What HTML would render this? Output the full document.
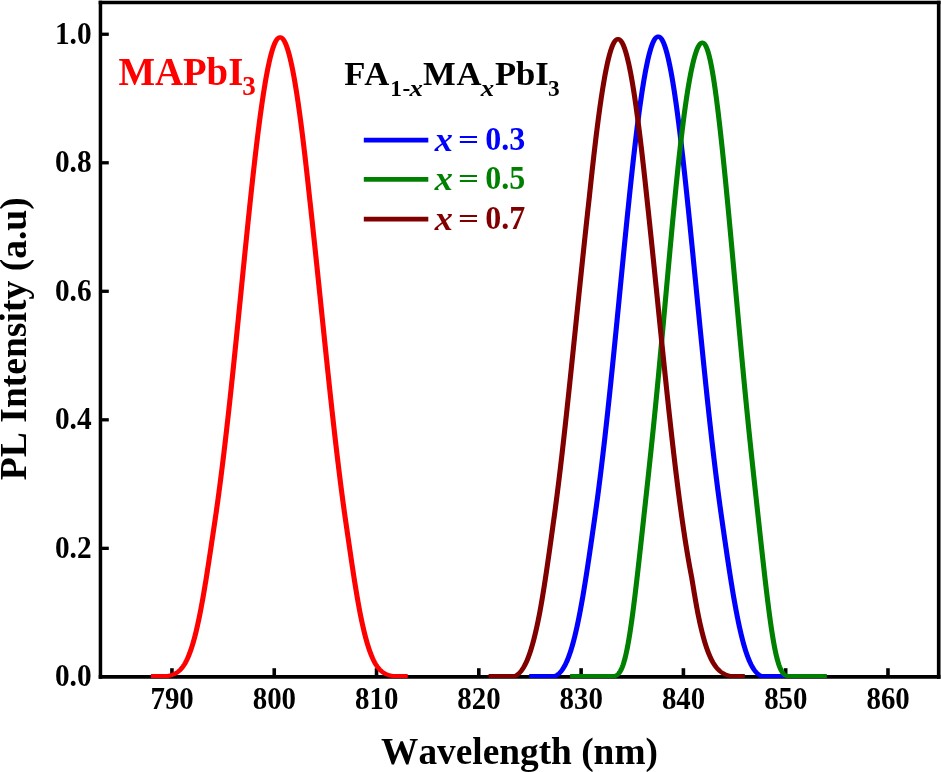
<!DOCTYPE html>
<html lang="en">
<head>
<meta charset="utf-8">
<title>PL Intensity vs Wavelength</title>
<style>
html,body{margin:0;padding:0;background:#fff;}
body{width:941px;height:772px;overflow:hidden;}
svg{display:block;}
text{font-family:'Liberation Serif', serif;font-weight:bold;font-kerning:none;}
.tick{font-size:29.33px;fill:#000;}
.title{font-size:37.33px;fill:#000;}
.leg{font-size:32px;}
i,.it{font-style:italic;}
</style>
</head>
<body>
<svg width="941" height="772" viewBox="0 0 941 772">
<rect x="0" y="0" width="941" height="772" fill="#ffffff"/>

<g stroke="#000" fill="none">
<line x1="171.95" y1="677" x2="171.95" y2="668.2" stroke-width="3.6"/>
<line x1="274.24" y1="677" x2="274.24" y2="668.2" stroke-width="3.6"/>
<line x1="376.53" y1="677" x2="376.53" y2="668.2" stroke-width="3.6"/>
<line x1="478.82" y1="677" x2="478.82" y2="668.2" stroke-width="3.6"/>
<line x1="581.11" y1="677" x2="581.11" y2="668.2" stroke-width="3.6"/>
<line x1="683.40" y1="677" x2="683.40" y2="668.2" stroke-width="3.6"/>
<line x1="785.69" y1="677" x2="785.69" y2="668.2" stroke-width="3.6"/>
<line x1="887.98" y1="677" x2="887.98" y2="668.2" stroke-width="3.6"/>
<line x1="100.5" y1="548.33" x2="108.8" y2="548.33" stroke-width="3.3"/>
<line x1="100.5" y1="419.81" x2="108.8" y2="419.81" stroke-width="3.3"/>
<line x1="100.5" y1="291.29" x2="108.8" y2="291.29" stroke-width="3.3"/>
<line x1="100.5" y1="162.77" x2="108.8" y2="162.77" stroke-width="3.3"/>
<line x1="100.5" y1="34.25" x2="108.8" y2="34.25" stroke-width="3.3"/>
<line x1="100.45" y1="0.78" x2="100.45" y2="678.67" stroke-width="3.5"/>
<line x1="98.7" y1="676.85" x2="940.5" y2="676.85" stroke-width="3.65"/>
<line x1="98.7" y1="2.45" x2="940.5" y2="2.45" stroke-width="3.35"/>
<line x1="938.7" y1="0.78" x2="938.7" y2="678.67" stroke-width="3.65"/>
</g>
<g fill="none" stroke-width="4.1" stroke-linejoin="round" stroke-linecap="butt" transform="scale(1.25,1)">
<path stroke="#ff0000" d="M120.80,675.96 L133.85,675.96 L134.08,675.95 L134.30,675.91 L134.52,675.87 L134.75,675.82 L134.97,675.77 L135.20,675.72 L135.42,675.66 L135.65,675.60 L135.87,675.54 L136.10,675.47 L136.32,675.41 L136.54,675.34 L136.77,675.26 L136.99,675.18 L137.22,675.10 L137.44,675.01 L137.67,674.92 L137.89,674.83 L138.12,674.73 L138.34,674.63 L138.56,674.52 L138.79,674.41 L139.01,674.29 L139.24,674.17 L139.46,674.04 L139.69,673.91 L139.91,673.77 L140.14,673.62 L140.36,673.47 L140.59,673.32 L140.81,673.15 L141.03,672.98 L141.26,672.81 L141.48,672.62 L141.71,672.43 L141.93,672.23 L142.16,672.03 L142.38,671.82 L142.61,671.59 L142.83,671.36 L143.05,671.13 L143.28,670.88 L143.50,670.63 L143.73,670.36 L143.95,670.09 L144.18,669.81 L144.40,669.51 L144.63,669.21 L144.85,668.90 L145.07,668.58 L145.30,668.24 L145.52,667.90 L145.75,667.54 L145.97,667.18 L146.20,666.80 L146.42,666.41 L146.65,666.01 L146.87,665.60 L147.09,665.17 L147.32,664.73 L147.54,664.28 L147.77,663.82 L147.99,663.34 L148.22,662.85 L148.44,662.34 L148.67,661.82 L148.89,661.29 L149.11,660.74 L149.34,660.18 L149.56,659.60 L149.79,659.01 L150.01,658.40 L150.24,657.78 L150.46,657.14 L150.69,656.48 L150.91,655.81 L151.13,655.13 L151.36,654.42 L151.58,653.70 L151.81,652.97 L152.03,652.21 L152.26,651.44 L152.48,650.65 L152.71,649.85 L152.93,649.02 L153.15,648.18 L153.38,647.32 L153.60,646.45 L153.83,645.55 L154.05,644.64 L154.28,643.71 L154.50,642.76 L154.73,641.79 L154.95,640.80 L155.17,639.79 L155.40,638.77 L155.62,637.72 L155.85,636.66 L156.07,635.58 L156.30,634.48 L156.52,633.36 L156.75,632.22 L156.97,631.07 L157.19,629.89 L157.42,628.69 L157.64,627.48 L157.87,626.25 L158.09,624.99 L158.32,623.72 L158.54,622.43 L158.77,621.13 L158.99,619.80 L159.21,618.46 L159.44,617.09 L159.66,615.71 L159.89,614.31 L160.11,612.90 L160.34,611.46 L160.56,610.01 L160.79,608.54 L161.01,607.05 L161.23,605.55 L161.46,604.03 L161.68,602.49 L161.91,600.94 L162.13,599.37 L162.36,597.79 L162.58,596.19 L162.81,594.58 L163.03,592.95 L163.25,591.30 L163.48,589.65 L163.70,587.98 L163.93,586.29 L164.15,584.59 L164.38,582.89 L164.60,581.16 L164.83,579.43 L165.05,577.68 L165.27,575.93 L165.50,574.16 L165.72,572.39 L165.95,570.60 L166.17,568.80 L166.40,567.00 L166.62,565.19 L166.85,563.37 L167.07,561.54 L167.29,559.70 L167.52,557.86 L167.74,556.02 L167.97,554.16 L168.19,552.31 L168.42,550.44 L168.64,548.58 L168.87,546.71 L169.09,544.84 L169.31,542.96 L169.54,541.08 L169.76,539.20 L169.99,537.32 L170.21,535.44 L170.44,533.56 L170.66,531.68 L170.89,529.80 L171.11,527.91 L171.33,526.03 L171.56,524.15 L171.78,522.27 L172.01,520.38 L172.23,518.47 L172.46,516.55 L172.68,514.62 L172.91,512.67 L173.13,510.70 L173.35,508.72 L173.58,506.73 L173.80,504.72 L174.03,502.70 L174.25,500.66 L174.48,498.61 L174.70,496.54 L174.93,494.46 L175.15,492.36 L175.37,490.25 L175.60,488.13 L175.82,485.99 L176.05,483.84 L176.27,481.67 L176.50,479.49 L176.72,477.29 L176.95,475.09 L177.17,472.86 L177.39,470.63 L177.62,468.38 L177.84,466.11 L178.07,463.84 L178.29,461.55 L178.52,459.24 L178.74,456.92 L178.97,454.60 L179.19,452.25 L179.41,449.90 L179.64,447.53 L179.86,445.15 L180.09,442.75 L180.31,440.35 L180.54,437.93 L180.76,435.50 L180.99,433.06 L181.21,430.60 L181.43,428.14 L181.66,425.66 L181.88,423.17 L182.11,420.67 L182.33,418.16 L182.56,415.64 L182.78,413.10 L183.01,410.56 L183.23,408.00 L183.45,405.44 L183.68,402.86 L183.90,400.28 L184.13,397.68 L184.35,395.08 L184.58,392.47 L184.80,389.84 L185.03,387.21 L185.25,384.57 L185.47,381.92 L185.70,379.26 L185.92,376.60 L186.15,373.92 L186.37,371.24 L186.60,368.55 L186.82,365.85 L187.05,363.15 L187.27,360.44 L187.49,357.72 L187.72,354.99 L187.94,352.26 L188.17,349.53 L188.39,346.78 L188.62,344.03 L188.84,341.28 L189.07,338.52 L189.29,335.76 L189.51,332.99 L189.74,330.22 L189.96,327.44 L190.19,324.66 L190.41,321.87 L190.64,319.09 L190.86,316.30 L191.09,313.50 L191.31,310.71 L191.53,307.91 L191.76,305.11 L191.98,302.31 L192.21,299.50 L192.43,296.70 L192.66,293.89 L192.88,291.09 L193.11,288.28 L193.33,285.48 L193.55,282.67 L193.78,279.87 L194.00,277.06 L194.23,274.26 L194.45,271.46 L194.68,268.66 L194.90,265.86 L195.13,263.07 L195.35,260.28 L195.57,257.49 L195.80,254.70 L196.02,251.92 L196.25,249.14 L196.47,246.37 L196.70,243.60 L196.92,240.84 L197.15,238.08 L197.37,235.33 L197.60,232.58 L197.82,229.84 L198.04,227.11 L198.27,224.38 L198.49,221.66 L198.72,218.95 L198.94,216.25 L199.17,213.55 L199.39,210.87 L199.62,208.19 L199.84,205.52 L200.06,202.86 L200.29,200.21 L200.51,197.57 L200.74,194.94 L200.96,192.33 L201.19,189.72 L201.41,187.13 L201.64,184.54 L201.86,181.97 L202.08,179.42 L202.31,176.87 L202.53,174.34 L202.76,171.82 L202.98,169.32 L203.21,166.83 L203.43,164.35 L203.66,161.89 L203.88,159.45 L204.10,157.02 L204.33,154.61 L204.55,152.21 L204.78,149.83 L205.00,147.47 L205.23,145.12 L205.45,142.79 L205.68,140.48 L205.90,138.19 L206.12,135.91 L206.35,133.66 L206.57,131.42 L206.80,129.21 L207.02,127.01 L207.25,124.83 L207.47,122.68 L207.70,120.54 L207.92,118.42 L208.14,116.33 L208.37,114.26 L208.59,112.21 L208.82,110.18 L209.04,108.18 L209.27,106.19 L209.49,104.23 L209.72,102.30 L209.94,100.38 L210.16,98.50 L210.39,96.63 L210.61,94.79 L210.84,92.98 L211.06,91.19 L211.29,89.42 L211.51,87.68 L211.74,85.97 L211.96,84.28 L212.18,82.62 L212.41,80.98 L212.63,79.37 L212.86,77.79 L213.08,76.24 L213.31,74.71 L213.53,73.21 L213.76,71.74 L213.98,70.30 L214.20,68.89 L214.43,67.50 L214.65,66.14 L214.88,64.81 L215.10,63.52 L215.33,62.25 L215.55,61.01 L215.78,59.80 L216.00,58.62 L216.22,57.47 L216.45,56.35 L216.67,55.26 L216.90,54.20 L217.12,53.17 L217.35,52.18 L217.57,51.21 L217.80,50.28 L218.02,49.38 L218.24,48.50 L218.47,47.67 L218.69,46.86 L218.92,46.08 L219.14,45.34 L219.37,44.63 L219.59,43.95 L219.82,43.30 L220.04,42.69 L220.26,42.11 L220.49,41.56 L220.71,41.04 L220.94,40.56 L221.16,40.11 L221.39,39.70 L221.61,39.31 L221.84,38.96 L222.06,38.64 L222.28,38.36 L222.51,38.11 L222.73,37.89 L222.96,37.71 L223.18,37.56 L223.41,37.44 L223.63,37.36 L223.86,37.31 L224.08,37.29 L224.30,37.31 L224.53,37.36 L224.75,37.44 L224.98,37.56 L225.20,37.71 L225.43,37.89 L225.65,38.11 L225.88,38.36 L226.10,38.64 L226.32,38.96 L226.55,39.31 L226.77,39.70 L227.00,40.11 L227.22,40.56 L227.45,41.04 L227.67,41.56 L227.90,42.11 L228.12,42.69 L228.34,43.30 L228.57,43.95 L228.79,44.63 L229.02,45.34 L229.24,46.08 L229.47,46.86 L229.69,47.67 L229.92,48.50 L230.14,49.38 L230.36,50.28 L230.59,51.21 L230.81,52.18 L231.04,53.17 L231.26,54.20 L231.49,55.26 L231.71,56.35 L231.94,57.47 L232.16,58.62 L232.38,59.80 L232.61,61.01 L232.83,62.25 L233.06,63.52 L233.28,64.81 L233.51,66.14 L233.73,67.50 L233.96,68.89 L234.18,70.30 L234.40,71.74 L234.63,73.21 L234.85,74.71 L235.08,76.24 L235.30,77.79 L235.53,79.37 L235.75,80.98 L235.98,82.62 L236.20,84.28 L236.42,85.97 L236.65,87.68 L236.87,89.42 L237.10,91.19 L237.32,92.98 L237.55,94.79 L237.77,96.63 L238.00,98.50 L238.22,100.38 L238.44,102.30 L238.67,104.23 L238.89,106.19 L239.12,108.18 L239.34,110.18 L239.57,112.21 L239.79,114.26 L240.02,116.33 L240.24,118.42 L240.46,120.54 L240.69,122.68 L240.91,124.83 L241.14,127.01 L241.36,129.21 L241.59,131.42 L241.81,133.66 L242.04,135.91 L242.26,138.19 L242.48,140.48 L242.71,142.79 L242.93,145.12 L243.16,147.47 L243.38,149.83 L243.61,152.21 L243.83,154.61 L244.06,157.02 L244.28,159.45 L244.50,161.89 L244.73,164.35 L244.95,166.83 L245.18,169.32 L245.40,171.82 L245.63,174.34 L245.85,176.87 L246.08,179.42 L246.30,181.97 L246.52,184.54 L246.75,187.13 L246.97,189.72 L247.20,192.33 L247.42,194.94 L247.65,197.57 L247.88,200.21 L248.12,202.86 L248.35,205.52 L248.59,208.19 L248.82,210.87 L249.05,213.55 L249.29,216.25 L249.52,218.95 L249.76,221.66 L249.99,224.38 L250.22,227.11 L250.46,229.84 L250.69,232.58 L250.93,235.33 L251.16,238.08 L251.39,240.84 L251.63,243.60 L251.86,246.37 L252.10,249.14 L252.33,251.92 L252.56,254.70 L252.80,257.49 L253.03,260.28 L253.26,263.07 L253.50,265.86 L253.73,268.66 L253.96,271.46 L254.20,274.26 L254.43,277.06 L254.66,279.87 L254.89,282.67 L255.13,285.48 L255.36,288.28 L255.59,291.09 L255.82,293.89 L256.06,296.70 L256.29,299.50 L256.52,302.31 L256.75,305.11 L256.98,307.91 L257.21,310.71 L257.44,313.50 L257.67,316.30 L257.91,319.09 L258.14,321.87 L258.37,324.66 L258.60,327.44 L258.83,330.22 L259.06,332.99 L259.29,335.76 L259.51,338.52 L259.74,341.28 L259.97,344.03 L260.20,346.78 L260.43,349.53 L260.66,352.26 L260.89,354.99 L261.11,357.72 L261.34,360.44 L261.57,363.15 L261.80,365.85 L262.02,368.55 L262.25,371.24 L262.48,373.92 L262.71,376.60 L262.93,379.26 L263.16,381.92 L263.38,384.57 L263.61,387.21 L263.84,389.84 L264.06,392.47 L264.29,395.08 L264.51,397.68 L264.74,400.28 L264.96,402.86 L265.19,405.44 L265.41,408.00 L265.63,410.56 L265.86,413.10 L266.08,415.64 L266.31,418.16 L266.53,420.67 L266.75,423.17 L266.97,425.66 L267.20,428.14 L267.42,430.60 L267.64,433.06 L267.87,435.50 L268.09,437.93 L268.31,440.35 L268.53,442.75 L268.75,445.15 L268.98,447.53 L269.20,449.90 L269.42,452.25 L269.64,454.60 L269.86,456.92 L270.08,459.24 L270.30,461.55 L270.53,463.84 L270.75,466.11 L270.97,468.38 L271.19,470.63 L271.41,472.86 L271.63,475.09 L271.85,477.29 L272.07,479.49 L272.29,481.67 L272.51,483.84 L272.73,485.99 L272.95,488.13 L273.17,490.25 L273.39,492.36 L273.61,494.46 L273.83,496.54 L274.05,498.61 L274.27,500.66 L274.49,502.70 L274.71,504.72 L274.93,506.73 L275.15,508.72 L275.36,510.70 L275.58,512.67 L275.80,514.62 L276.02,516.55 L276.24,518.47 L276.46,520.38 L276.68,522.27 L276.90,524.15 L277.12,526.03 L277.34,527.91 L277.56,529.80 L277.77,531.68 L277.99,533.56 L278.21,535.44 L278.43,537.32 L278.65,539.20 L278.87,541.08 L279.09,542.96 L279.31,544.84 L279.52,546.71 L279.74,548.58 L279.96,550.44 L280.18,552.31 L280.40,554.16 L280.62,556.02 L280.83,557.86 L281.05,559.70 L281.27,561.54 L281.49,563.37 L281.71,565.19 L281.93,567.00 L282.14,568.80 L282.36,570.60 L282.58,572.39 L282.80,574.16 L283.02,575.93 L283.24,577.68 L283.45,579.43 L283.67,581.16 L283.89,582.89 L284.11,584.59 L284.33,586.29 L284.55,587.98 L284.76,589.65 L284.98,591.30 L285.20,592.95 L285.42,594.58 L285.64,596.19 L285.86,597.79 L286.08,599.37 L286.29,600.94 L286.51,602.49 L286.73,604.03 L286.95,605.55 L287.17,607.05 L287.39,608.54 L287.61,610.01 L287.83,611.46 L288.05,612.90 L288.27,614.31 L288.50,615.71 L288.72,617.09 L288.95,618.46 L289.17,619.80 L289.39,621.13 L289.62,622.43 L289.84,623.72 L290.07,624.99 L290.29,626.25 L290.52,627.48 L290.74,628.69 L290.97,629.89 L291.19,631.07 L291.41,632.22 L291.64,633.36 L291.86,634.48 L292.09,635.58 L292.31,636.66 L292.54,637.72 L292.76,638.77 L292.99,639.79 L293.21,640.80 L293.43,641.79 L293.66,642.76 L293.88,643.71 L294.11,644.64 L294.33,645.55 L294.56,646.45 L294.78,647.32 L295.01,648.18 L295.23,649.02 L295.45,649.85 L295.68,650.65 L295.90,651.44 L296.13,652.21 L296.35,652.97 L296.58,653.70 L296.80,654.42 L297.03,655.13 L297.25,655.81 L297.47,656.48 L297.70,657.14 L297.92,657.78 L298.15,658.40 L298.37,659.01 L298.60,659.60 L298.82,660.18 L299.05,660.74 L299.27,661.29 L299.49,661.82 L299.72,662.34 L299.94,662.85 L300.17,663.34 L300.39,663.82 L300.62,664.28 L300.84,664.73 L301.07,665.17 L301.29,665.60 L301.51,666.01 L301.74,666.41 L301.96,666.80 L302.19,667.18 L302.41,667.54 L302.64,667.90 L302.86,668.24 L303.09,668.58 L303.31,668.90 L303.53,669.21 L303.76,669.51 L303.98,669.81 L304.21,670.09 L304.43,670.36 L304.66,670.63 L304.88,670.88 L305.11,671.13 L305.33,671.36 L305.55,671.59 L305.78,671.82 L306.00,672.03 L306.23,672.23 L306.45,672.43 L306.68,672.62 L306.90,672.81 L307.13,672.98 L307.35,673.15 L307.57,673.32 L307.80,673.47 L308.02,673.62 L308.25,673.77 L308.47,673.91 L308.70,674.04 L308.92,674.17 L309.15,674.29 L309.37,674.41 L309.60,674.52 L309.82,674.63 L310.04,674.73 L310.27,674.83 L310.49,674.92 L310.72,675.01 L310.94,675.10 L311.17,675.18 L311.39,675.26 L311.62,675.34 L311.84,675.41 L312.06,675.47 L312.29,675.54 L312.51,675.60 L312.74,675.66 L312.96,675.72 L313.19,675.77 L313.41,675.82 L313.64,675.87 L313.86,675.91 L314.08,675.95 L314.31,675.96 L326.16,675.96"/>
<path stroke="#0000ff" d="M423.36,675.96 L444.11,675.96 L444.28,675.93 L444.45,675.83 L444.62,675.73 L444.79,675.63 L444.95,675.52 L445.12,675.41 L445.29,675.29 L445.46,675.16 L445.63,675.03 L445.80,674.89 L445.97,674.74 L446.14,674.59 L446.31,674.44 L446.48,674.27 L446.65,674.11 L446.82,673.93 L446.99,673.75 L447.16,673.56 L447.33,673.37 L447.49,673.17 L447.66,672.96 L447.83,672.75 L448.00,672.53 L448.17,672.30 L448.34,672.06 L448.51,671.82 L448.68,671.57 L448.85,671.32 L449.02,671.06 L449.19,670.79 L449.36,670.51 L449.53,670.22 L449.70,669.93 L449.86,669.63 L450.03,669.33 L450.20,669.01 L450.37,668.69 L450.54,668.36 L450.71,668.02 L450.88,667.67 L451.05,667.32 L451.22,666.95 L451.39,666.58 L451.56,666.20 L451.73,665.82 L451.90,665.42 L452.07,665.01 L452.24,664.60 L452.40,664.18 L452.57,663.75 L452.74,663.31 L452.91,662.86 L453.08,662.40 L453.25,661.94 L453.42,661.46 L453.59,660.98 L453.76,660.48 L453.93,659.98 L454.10,659.47 L454.27,658.95 L454.44,658.41 L454.61,657.87 L454.77,657.32 L454.94,656.76 L455.11,656.19 L455.28,655.62 L455.45,655.03 L455.62,654.43 L455.79,653.82 L455.96,653.20 L456.13,652.57 L456.30,651.93 L456.47,651.29 L456.64,650.63 L456.81,649.96 L456.98,649.28 L457.14,648.59 L457.31,647.89 L457.48,647.18 L457.65,646.46 L457.82,645.73 L457.99,644.99 L458.16,644.24 L458.33,643.48 L458.50,642.71 L458.67,641.93 L458.84,641.14 L459.01,640.33 L459.18,639.52 L459.35,638.70 L459.52,637.86 L459.68,637.02 L459.85,636.16 L460.02,635.30 L460.19,634.42 L460.36,633.54 L460.53,632.64 L460.70,631.73 L460.87,630.82 L461.04,629.89 L461.21,628.95 L461.38,628.00 L461.55,627.04 L461.72,626.07 L461.89,625.09 L462.05,624.10 L462.22,623.10 L462.39,622.09 L462.56,621.07 L462.73,620.04 L462.90,619.00 L463.07,617.95 L463.24,616.89 L463.41,615.82 L463.58,614.74 L463.75,613.65 L463.92,612.55 L464.09,611.44 L464.26,610.33 L464.43,609.20 L464.59,608.06 L464.76,606.91 L464.93,605.76 L465.10,604.59 L465.27,603.42 L465.44,602.23 L465.61,601.04 L465.78,599.84 L465.95,598.63 L466.12,597.41 L466.29,596.18 L466.46,594.95 L466.63,593.70 L466.80,592.45 L466.96,591.19 L467.13,589.92 L467.30,588.65 L467.47,587.36 L467.64,586.07 L467.81,584.77 L467.98,583.47 L468.15,582.15 L468.32,580.83 L468.49,579.51 L468.66,578.17 L468.83,576.83 L469.00,575.48 L469.17,574.13 L469.33,572.77 L469.50,571.41 L469.67,570.03 L469.84,568.66 L470.01,567.27 L470.18,565.88 L470.35,564.49 L470.52,563.09 L470.69,561.69 L470.86,560.28 L471.03,558.86 L471.20,557.45 L471.37,556.02 L471.54,554.60 L471.71,553.17 L471.87,551.73 L472.04,550.30 L472.21,548.85 L472.38,547.41 L472.55,545.96 L472.72,544.51 L472.89,543.06 L473.06,541.60 L473.23,540.14 L473.40,538.68 L473.57,537.22 L473.74,535.75 L473.91,534.28 L474.08,532.81 L474.24,531.34 L474.41,529.87 L474.58,528.40 L474.75,526.92 L474.92,525.44 L475.09,523.96 L475.26,522.48 L475.43,521.00 L475.60,519.52 L475.77,518.04 L475.94,516.55 L476.11,515.06 L476.28,513.56 L476.45,512.06 L476.62,510.54 L476.78,509.02 L476.95,507.49 L477.12,505.94 L477.29,504.39 L477.46,502.84 L477.63,501.27 L477.80,499.69 L477.97,498.11 L478.14,496.52 L478.31,494.92 L478.48,493.31 L478.65,491.69 L478.82,490.06 L478.99,488.43 L479.15,486.78 L479.32,485.13 L479.49,483.47 L479.66,481.80 L479.83,480.12 L480.00,478.44 L480.17,476.74 L480.34,475.04 L480.51,473.33 L480.68,471.61 L480.85,469.88 L481.02,468.15 L481.19,466.41 L481.36,464.66 L481.52,462.90 L481.69,461.13 L481.86,459.36 L482.03,457.57 L482.20,455.78 L482.37,453.99 L482.54,452.18 L482.71,450.37 L482.88,448.55 L483.05,446.72 L483.22,444.88 L483.39,443.04 L483.56,441.19 L483.73,439.33 L483.90,437.47 L484.06,435.60 L484.23,433.72 L484.40,431.83 L484.57,429.94 L484.74,428.04 L484.91,426.13 L485.08,424.21 L485.25,422.29 L485.42,420.37 L485.59,418.43 L485.76,416.49 L485.93,414.54 L486.10,412.59 L486.27,410.63 L486.43,408.67 L486.60,406.69 L486.77,404.72 L486.94,402.73 L487.11,400.74 L487.28,398.75 L487.45,396.74 L487.62,394.74 L487.79,392.72 L487.96,390.70 L488.13,388.68 L488.30,386.65 L488.47,384.62 L488.64,382.58 L488.80,380.53 L488.97,378.48 L489.14,376.43 L489.31,374.37 L489.48,372.30 L489.65,370.24 L489.82,368.16 L489.99,366.08 L490.16,364.00 L490.33,361.92 L490.50,359.83 L490.67,357.73 L490.84,355.63 L491.01,353.53 L491.18,351.43 L491.34,349.32 L491.51,347.21 L491.68,345.09 L491.85,342.97 L492.02,340.85 L492.19,338.72 L492.36,336.59 L492.53,334.46 L492.70,332.33 L492.87,330.19 L493.04,328.05 L493.21,325.91 L493.38,323.77 L493.55,321.62 L493.71,319.48 L493.88,317.33 L494.05,315.18 L494.22,313.02 L494.39,310.87 L494.56,308.72 L494.73,306.56 L494.90,304.40 L495.07,302.24 L495.24,300.08 L495.41,297.92 L495.58,295.76 L495.75,293.60 L495.92,291.44 L496.09,289.28 L496.25,287.11 L496.42,284.95 L496.59,282.79 L496.76,280.63 L496.93,278.47 L497.10,276.31 L497.27,274.15 L497.44,271.99 L497.61,269.83 L497.78,267.68 L497.95,265.52 L498.12,263.37 L498.29,261.22 L498.46,259.07 L498.62,256.92 L498.79,254.77 L498.96,252.63 L499.13,250.49 L499.30,248.35 L499.47,246.21 L499.64,244.08 L499.81,241.95 L499.98,239.82 L500.15,237.69 L500.32,235.57 L500.49,233.45 L500.66,231.34 L500.83,229.23 L500.99,227.12 L501.16,225.02 L501.33,222.92 L501.50,220.83 L501.67,218.74 L501.84,216.65 L502.01,214.57 L502.18,212.50 L502.35,210.43 L502.52,208.37 L502.69,206.31 L502.86,204.25 L503.03,202.21 L503.20,200.16 L503.37,198.13 L503.53,196.10 L503.70,194.08 L503.87,192.06 L504.04,190.05 L504.21,188.05 L504.38,186.05 L504.55,184.06 L504.72,182.08 L504.89,180.10 L505.06,178.14 L505.23,176.18 L505.40,174.23 L505.57,172.28 L505.74,170.35 L505.90,168.42 L506.07,166.50 L506.24,164.59 L506.41,162.69 L506.58,160.80 L506.75,158.92 L506.92,157.05 L507.09,155.18 L507.26,153.33 L507.43,151.48 L507.60,149.65 L507.77,147.82 L507.94,146.01 L508.11,144.20 L508.28,142.41 L508.44,140.63 L508.61,138.85 L508.78,137.09 L508.95,135.34 L509.12,133.60 L509.29,131.87 L509.46,130.15 L509.63,128.45 L509.80,126.75 L509.97,125.07 L510.14,123.40 L510.31,121.74 L510.48,120.10 L510.65,118.47 L510.81,116.85 L510.98,115.24 L511.15,113.64 L511.32,112.06 L511.49,110.49 L511.66,108.94 L511.83,107.39 L512.00,105.86 L512.17,104.35 L512.34,102.85 L512.51,101.36 L512.68,99.89 L512.85,98.43 L513.02,96.98 L513.18,95.55 L513.35,94.14 L513.52,92.73 L513.69,91.35 L513.86,89.98 L514.03,88.62 L514.20,87.28 L514.37,85.95 L514.54,84.64 L514.71,83.35 L514.88,82.07 L515.05,80.80 L515.22,79.55 L515.39,78.32 L515.56,77.10 L515.72,75.90 L515.89,74.72 L516.06,73.55 L516.23,72.40 L516.40,71.27 L516.57,70.15 L516.74,69.05 L516.91,67.96 L517.08,66.90 L517.25,65.85 L517.42,64.81 L517.59,63.80 L517.76,62.80 L517.93,61.82 L518.09,60.85 L518.26,59.91 L518.43,58.98 L518.60,58.07 L518.77,57.18 L518.94,56.30 L519.11,55.45 L519.28,54.61 L519.45,53.79 L519.62,52.99 L519.79,52.20 L519.96,51.44 L520.13,50.69 L520.30,49.96 L520.47,49.25 L520.63,48.56 L520.80,47.89 L520.97,47.24 L521.14,46.60 L521.31,45.99 L521.48,45.39 L521.65,44.81 L521.82,44.25 L521.99,43.71 L522.16,43.19 L522.33,42.69 L522.50,42.21 L522.67,41.75 L522.84,41.30 L523.00,40.88 L523.17,40.48 L523.34,40.09 L523.51,39.73 L523.68,39.38 L523.85,39.05 L524.02,38.75 L524.19,38.46 L524.36,38.19 L524.53,37.95 L524.70,37.72 L524.87,37.51 L525.04,37.32 L525.21,37.15 L525.37,37.01 L525.54,36.88 L525.71,36.77 L525.88,36.68 L526.05,36.61 L526.22,36.56 L526.39,36.53 L526.56,36.52 L526.73,36.53 L526.90,36.56 L527.07,36.61 L527.24,36.68 L527.41,36.77 L527.58,36.88 L527.75,37.01 L527.91,37.15 L528.08,37.32 L528.25,37.51 L528.42,37.72 L528.59,37.95 L528.76,38.19 L528.93,38.46 L529.10,38.75 L529.27,39.05 L529.44,39.38 L529.61,39.73 L529.78,40.09 L529.95,40.48 L530.12,40.88 L530.28,41.30 L530.45,41.75 L530.62,42.21 L530.79,42.69 L530.96,43.19 L531.13,43.71 L531.30,44.25 L531.47,44.81 L531.64,45.39 L531.81,45.99 L531.98,46.60 L532.15,47.24 L532.32,47.89 L532.49,48.56 L532.65,49.25 L532.82,49.96 L532.99,50.69 L533.16,51.44 L533.33,52.20 L533.50,52.99 L533.67,53.79 L533.84,54.61 L534.01,55.45 L534.18,56.30 L534.35,57.18 L534.52,58.07 L534.69,58.98 L534.86,59.91 L535.03,60.85 L535.19,61.82 L535.36,62.80 L535.53,63.80 L535.70,64.81 L535.87,65.85 L536.04,66.90 L536.21,67.96 L536.38,69.05 L536.55,70.15 L536.72,71.27 L536.89,72.40 L537.06,73.55 L537.23,74.72 L537.40,75.90 L537.56,77.10 L537.73,78.32 L537.90,79.55 L538.07,80.80 L538.24,82.07 L538.41,83.35 L538.58,84.64 L538.75,85.95 L538.92,87.28 L539.09,88.62 L539.26,89.98 L539.43,91.35 L539.60,92.73 L539.77,94.14 L539.94,95.55 L540.10,96.98 L540.27,98.43 L540.44,99.89 L540.61,101.36 L540.78,102.85 L540.95,104.35 L541.12,105.86 L541.29,107.39 L541.46,108.94 L541.63,110.49 L541.80,112.06 L541.97,113.64 L542.14,115.24 L542.31,116.85 L542.47,118.47 L542.64,120.10 L542.81,121.74 L542.98,123.40 L543.15,125.07 L543.32,126.75 L543.49,128.45 L543.66,130.15 L543.83,131.87 L544.00,133.60 L544.17,135.34 L544.34,137.09 L544.51,138.85 L544.68,140.63 L544.84,142.41 L545.01,144.20 L545.18,146.01 L545.35,147.82 L545.52,149.65 L545.69,151.48 L545.86,153.33 L546.03,155.18 L546.20,157.05 L546.37,158.92 L546.54,160.80 L546.71,162.69 L546.88,164.59 L547.05,166.50 L547.22,168.42 L547.38,170.35 L547.55,172.28 L547.72,174.23 L547.89,176.18 L548.06,178.14 L548.23,180.10 L548.40,182.08 L548.57,184.06 L548.74,186.05 L548.91,188.05 L549.08,190.05 L549.25,192.06 L549.42,194.08 L549.59,196.10 L549.75,198.13 L549.92,200.16 L550.09,202.21 L550.26,204.25 L550.43,206.31 L550.60,208.37 L550.77,210.43 L550.94,212.50 L551.11,214.57 L551.28,216.65 L551.45,218.74 L551.62,220.83 L551.79,222.92 L551.96,225.02 L552.13,227.12 L552.29,229.23 L552.46,231.34 L552.63,233.45 L552.80,235.57 L552.97,237.69 L553.14,239.82 L553.31,241.95 L553.48,244.08 L553.65,246.21 L553.82,248.35 L553.99,250.49 L554.16,252.63 L554.33,254.77 L554.50,256.92 L554.66,259.07 L554.83,261.22 L555.00,263.37 L555.17,265.52 L555.34,267.68 L555.51,269.83 L555.68,271.99 L555.85,274.15 L556.02,276.31 L556.19,278.47 L556.36,280.63 L556.53,282.79 L556.70,284.95 L556.87,287.11 L557.03,289.28 L557.20,291.44 L557.37,293.60 L557.54,295.76 L557.71,297.92 L557.88,300.08 L558.05,302.24 L558.22,304.40 L558.39,306.56 L558.56,308.72 L558.73,310.87 L558.90,313.02 L559.07,315.18 L559.24,317.33 L559.41,319.48 L559.57,321.62 L559.74,323.77 L559.91,325.91 L560.08,328.05 L560.25,330.19 L560.42,332.33 L560.59,334.46 L560.76,336.59 L560.93,338.72 L561.10,340.85 L561.27,342.97 L561.44,345.09 L561.61,347.21 L561.78,349.32 L561.94,351.43 L562.11,353.53 L562.28,355.63 L562.45,357.73 L562.62,359.83 L562.79,361.92 L562.96,364.00 L563.13,366.08 L563.30,368.16 L563.47,370.24 L563.64,372.30 L563.81,374.37 L563.98,376.43 L564.15,378.48 L564.32,380.53 L564.48,382.58 L564.65,384.62 L564.82,386.65 L564.99,388.68 L565.16,390.70 L565.33,392.72 L565.50,394.74 L565.67,396.74 L565.84,398.75 L566.01,400.74 L566.18,402.73 L566.35,404.72 L566.52,406.69 L566.69,408.67 L566.85,410.63 L567.02,412.59 L567.19,414.54 L567.36,416.49 L567.53,418.43 L567.70,420.37 L567.87,422.29 L568.04,424.21 L568.21,426.13 L568.38,428.04 L568.55,429.94 L568.72,431.83 L568.89,433.72 L569.06,435.60 L569.22,437.47 L569.39,439.33 L569.56,441.19 L569.73,443.04 L569.90,444.88 L570.07,446.72 L570.24,448.55 L570.41,450.37 L570.58,452.18 L570.75,453.99 L570.92,455.78 L571.09,457.57 L571.26,459.36 L571.43,461.13 L571.60,462.90 L571.76,464.66 L571.93,466.41 L572.10,468.15 L572.27,469.88 L572.44,471.61 L572.61,473.33 L572.78,475.04 L572.95,476.74 L573.12,478.44 L573.29,480.12 L573.46,481.80 L573.63,483.47 L573.80,485.13 L573.97,486.78 L574.13,488.43 L574.30,490.06 L574.47,491.69 L574.64,493.31 L574.81,494.92 L574.98,496.52 L575.15,498.11 L575.32,499.69 L575.49,501.27 L575.66,502.84 L575.83,504.39 L576.00,505.94 L576.17,507.49 L576.34,509.02 L576.50,510.54 L576.67,512.06 L576.84,513.56 L577.01,515.06 L577.18,516.55 L577.35,518.04 L577.52,519.52 L577.69,521.00 L577.86,522.48 L578.03,523.96 L578.20,525.44 L578.37,526.92 L578.54,528.40 L578.71,529.87 L578.88,531.34 L579.04,532.81 L579.21,534.28 L579.38,535.75 L579.55,537.22 L579.72,538.68 L579.89,540.14 L580.06,541.60 L580.23,543.06 L580.40,544.51 L580.57,545.96 L580.74,547.41 L580.91,548.85 L581.08,550.30 L581.25,551.73 L581.41,553.17 L581.58,554.60 L581.75,556.02 L581.92,557.45 L582.09,558.86 L582.26,560.28 L582.43,561.69 L582.60,563.09 L582.77,564.49 L582.94,565.88 L583.11,567.27 L583.28,568.66 L583.45,570.03 L583.62,571.41 L583.79,572.77 L583.95,574.13 L584.12,575.48 L584.29,576.83 L584.46,578.17 L584.63,579.51 L584.80,580.83 L584.97,582.15 L585.14,583.47 L585.31,584.77 L585.48,586.07 L585.65,587.36 L585.82,588.65 L585.99,589.92 L586.16,591.19 L586.32,592.45 L586.49,593.70 L586.66,594.95 L586.83,596.18 L587.00,597.41 L587.17,598.63 L587.34,599.84 L587.51,601.04 L587.68,602.23 L587.85,603.42 L588.02,604.59 L588.19,605.76 L588.36,606.91 L588.53,608.06 L588.69,609.20 L588.86,610.33 L589.03,611.44 L589.20,612.55 L589.37,613.65 L589.54,614.74 L589.71,615.82 L589.88,616.89 L590.05,617.95 L590.22,619.00 L590.39,620.04 L590.56,621.07 L590.73,622.09 L590.90,623.10 L591.07,624.10 L591.23,625.09 L591.40,626.07 L591.57,627.04 L591.74,628.00 L591.91,628.95 L592.08,629.89 L592.25,630.82 L592.42,631.73 L592.59,632.64 L592.76,633.54 L592.93,634.42 L593.10,635.30 L593.27,636.16 L593.44,637.02 L593.60,637.86 L593.77,638.70 L593.94,639.52 L594.11,640.33 L594.28,641.14 L594.45,641.93 L594.62,642.71 L594.79,643.48 L594.96,644.24 L595.13,644.99 L595.30,645.73 L595.47,646.46 L595.64,647.18 L595.81,647.89 L595.98,648.59 L596.14,649.28 L596.31,649.96 L596.48,650.63 L596.65,651.29 L596.82,651.93 L596.99,652.57 L597.16,653.20 L597.33,653.82 L597.50,654.43 L597.67,655.03 L597.84,655.62 L598.01,656.19 L598.18,656.76 L598.35,657.32 L598.51,657.87 L598.68,658.41 L598.85,658.95 L599.02,659.47 L599.19,659.98 L599.36,660.48 L599.53,660.98 L599.70,661.46 L599.87,661.94 L600.04,662.40 L600.21,662.86 L600.38,663.31 L600.55,663.75 L600.72,664.18 L600.88,664.60 L601.05,665.01 L601.22,665.42 L601.39,665.82 L601.56,666.20 L601.73,666.58 L601.90,666.95 L602.07,667.32 L602.24,667.67 L602.41,668.02 L602.58,668.36 L602.75,668.69 L602.92,669.01 L603.09,669.33 L603.26,669.63 L603.42,669.93 L603.59,670.22 L603.76,670.51 L603.93,670.79 L604.10,671.06 L604.27,671.32 L604.44,671.57 L604.61,671.82 L604.78,672.06 L604.95,672.30 L605.12,672.53 L605.29,672.75 L605.46,672.96 L605.63,673.17 L605.79,673.37 L605.96,673.56 L606.13,673.75 L606.30,673.93 L606.47,674.11 L606.64,674.27 L606.81,674.44 L606.98,674.59 L607.15,674.74 L607.32,674.89 L607.49,675.03 L607.66,675.16 L607.83,675.29 L608.00,675.41 L608.17,675.52 L608.33,675.63 L608.50,675.73 L608.67,675.83 L608.84,675.93 L609.01,675.96 L628.72,675.96"/>
<path stroke="#008000" d="M456.08,675.96 L492.06,675.96 L492.22,675.90 L492.37,675.83 L492.53,675.75 L492.68,675.66 L492.84,675.57 L492.99,675.47 L493.15,675.37 L493.30,675.25 L493.46,675.13 L493.61,675.00 L493.77,674.86 L493.92,674.72 L494.07,674.56 L494.23,674.40 L494.38,674.22 L494.54,674.03 L494.69,673.84 L494.85,673.63 L495.00,673.41 L495.16,673.18 L495.31,672.94 L495.47,672.68 L495.62,672.41 L495.78,672.13 L495.93,671.84 L496.09,671.53 L496.24,671.21 L496.40,670.87 L496.55,670.52 L496.71,670.15 L496.86,669.77 L497.02,669.37 L497.17,668.96 L497.33,668.53 L497.48,668.08 L497.64,667.62 L497.79,667.14 L497.95,666.64 L498.10,666.12 L498.25,665.59 L498.41,665.04 L498.56,664.47 L498.72,663.88 L498.87,663.28 L499.03,662.65 L499.18,662.01 L499.34,661.35 L499.49,660.66 L499.65,659.96 L499.80,659.24 L499.96,658.50 L500.11,657.75 L500.27,656.97 L500.42,656.17 L500.58,655.35 L500.73,654.51 L500.89,653.66 L501.04,652.78 L501.20,651.88 L501.35,650.97 L501.51,650.03 L501.66,649.08 L501.82,648.10 L501.97,647.11 L502.13,646.10 L502.28,645.06 L502.43,644.01 L502.59,642.94 L502.74,641.85 L502.90,640.74 L503.05,639.62 L503.21,638.47 L503.36,637.31 L503.52,636.13 L503.67,634.93 L503.83,633.71 L503.98,632.48 L504.14,631.23 L504.29,629.96 L504.45,628.68 L504.60,627.38 L504.76,626.06 L504.91,624.73 L505.07,623.38 L505.22,622.01 L505.38,620.64 L505.53,619.24 L505.69,617.83 L505.84,616.41 L506.00,614.98 L506.15,613.53 L506.31,612.06 L506.46,610.59 L506.61,609.10 L506.77,607.60 L506.92,606.08 L507.08,604.56 L507.23,603.02 L507.39,601.48 L507.54,599.92 L507.70,598.35 L507.85,596.77 L508.01,595.18 L508.16,593.58 L508.32,591.98 L508.47,590.36 L508.63,588.74 L508.78,587.10 L508.94,585.46 L509.09,583.81 L509.25,582.16 L509.40,580.49 L509.56,578.82 L509.71,577.15 L509.87,575.47 L510.02,573.78 L510.18,572.08 L510.33,570.38 L510.49,568.68 L510.64,566.97 L510.79,565.25 L510.95,563.54 L511.10,561.81 L511.26,560.09 L511.41,558.36 L511.57,556.62 L511.72,554.88 L511.88,553.14 L512.03,551.40 L512.19,549.65 L512.34,547.90 L512.50,546.15 L512.65,544.40 L512.81,542.64 L512.96,540.89 L513.12,539.13 L513.27,537.37 L513.43,535.60 L513.58,533.84 L513.74,532.07 L513.89,530.31 L514.05,528.54 L514.20,526.77 L514.36,525.00 L514.51,523.23 L514.67,521.46 L514.82,519.69 L514.97,517.92 L515.13,516.14 L515.28,514.37 L515.44,512.59 L515.59,510.82 L515.75,509.04 L515.90,507.27 L516.06,505.49 L516.21,503.71 L516.37,501.93 L516.52,500.15 L516.68,498.37 L516.83,496.59 L516.99,494.81 L517.14,493.03 L517.30,491.24 L517.45,489.46 L517.61,487.67 L517.76,485.88 L517.92,484.09 L518.07,482.30 L518.23,480.51 L518.38,478.72 L518.54,476.92 L518.69,475.13 L518.85,473.33 L519.00,471.53 L519.15,469.73 L519.31,467.92 L519.46,466.11 L519.62,464.30 L519.77,462.49 L519.93,460.67 L520.08,458.86 L520.24,457.03 L520.39,455.21 L520.55,453.38 L520.70,451.55 L520.86,449.71 L521.01,447.87 L521.17,446.03 L521.32,444.18 L521.48,442.32 L521.63,440.47 L521.79,438.61 L521.94,436.74 L522.10,434.87 L522.25,432.99 L522.41,431.11 L522.56,429.22 L522.72,427.33 L522.87,425.43 L523.03,423.52 L523.18,421.61 L523.33,419.70 L523.49,417.78 L523.64,415.85 L523.80,413.92 L523.95,411.98 L524.11,410.03 L524.26,408.08 L524.42,406.12 L524.57,404.16 L524.73,402.19 L524.88,400.21 L525.04,398.23 L525.19,396.24 L525.35,394.25 L525.50,392.25 L525.66,390.25 L525.81,388.24 L525.97,386.23 L526.12,384.21 L526.28,382.19 L526.43,380.16 L526.59,378.13 L526.74,376.09 L526.90,374.05 L527.05,372.01 L527.21,369.95 L527.36,367.90 L527.51,365.84 L527.67,363.78 L527.82,361.71 L527.98,359.64 L528.13,357.56 L528.29,355.49 L528.44,353.40 L528.60,351.32 L528.75,349.23 L528.91,347.14 L529.06,345.04 L529.22,342.94 L529.37,340.84 L529.53,338.74 L529.68,336.63 L529.84,334.52 L529.99,332.41 L530.15,330.30 L530.30,328.18 L530.46,326.06 L530.61,323.94 L530.77,321.82 L530.92,319.69 L531.08,317.57 L531.23,315.44 L531.39,313.31 L531.54,311.18 L531.70,309.05 L531.85,306.92 L532.01,304.79 L532.16,302.65 L532.32,300.52 L532.47,298.38 L532.63,296.25 L532.78,294.11 L532.94,291.98 L533.09,289.84 L533.25,287.71 L533.40,285.57 L533.56,283.44 L533.71,281.30 L533.87,279.17 L534.02,277.03 L534.18,274.90 L534.33,272.77 L534.49,270.64 L534.64,268.51 L534.80,266.39 L534.95,264.26 L535.11,262.14 L535.26,260.02 L535.42,257.90 L535.57,255.78 L535.73,253.67 L535.88,251.55 L536.04,249.44 L536.19,247.34 L536.35,245.23 L536.50,243.13 L536.66,241.03 L536.82,238.94 L536.97,236.85 L537.13,234.76 L537.28,232.68 L537.44,230.60 L537.59,228.52 L537.75,226.45 L537.91,224.38 L538.06,222.32 L538.22,220.26 L538.37,218.21 L538.53,216.16 L538.69,214.12 L538.84,212.08 L539.00,210.05 L539.15,208.02 L539.31,206.00 L539.47,203.99 L539.62,201.98 L539.78,199.98 L539.94,197.98 L540.09,195.99 L540.25,194.01 L540.41,192.03 L540.56,190.06 L540.72,188.10 L540.88,186.14 L541.03,184.19 L541.19,182.25 L541.35,180.32 L541.51,178.40 L541.66,176.48 L541.82,174.57 L541.98,172.67 L542.14,170.78 L542.29,168.89 L542.45,167.02 L542.61,165.15 L542.77,163.29 L542.93,161.45 L543.09,159.61 L543.24,157.78 L543.40,155.96 L543.56,154.15 L543.72,152.35 L543.88,150.56 L544.04,148.78 L544.20,147.01 L544.36,145.25 L544.52,143.50 L544.68,141.76 L544.84,140.04 L545.00,138.32 L545.16,136.62 L545.32,134.92 L545.48,133.24 L545.64,131.57 L545.80,129.91 L545.97,128.26 L546.13,126.63 L546.29,125.01 L546.45,123.40 L546.61,121.80 L546.77,120.21 L546.94,118.64 L547.10,117.08 L547.26,115.53 L547.42,114.00 L547.59,112.48 L547.75,110.97 L547.91,109.48 L548.08,108.00 L548.24,106.53 L548.40,105.08 L548.57,103.64 L548.73,102.21 L548.90,100.80 L549.06,99.41 L549.23,98.03 L549.39,96.66 L549.56,95.31 L549.72,93.97 L549.89,92.65 L550.05,91.34 L550.22,90.05 L550.38,88.77 L550.55,87.51 L550.71,86.26 L550.88,85.03 L551.05,83.82 L551.21,82.62 L551.38,81.44 L551.55,80.27 L551.71,79.12 L551.88,77.98 L552.05,76.86 L552.21,75.76 L552.38,74.68 L552.55,73.61 L552.71,72.56 L552.88,71.52 L553.05,70.50 L553.21,69.50 L553.38,68.52 L553.55,67.55 L553.71,66.60 L553.88,65.67 L554.05,64.75 L554.21,63.86 L554.38,62.98 L554.55,62.12 L554.71,61.27 L554.88,60.45 L555.05,59.64 L555.21,58.85 L555.38,58.07 L555.55,57.32 L555.71,56.58 L555.88,55.87 L556.04,55.17 L556.21,54.49 L556.38,53.82 L556.54,53.18 L556.71,52.56 L556.87,51.95 L557.04,51.36 L557.20,50.79 L557.36,50.24 L557.53,49.71 L557.69,49.20 L557.86,48.70 L558.02,48.23 L558.18,47.77 L558.34,47.34 L558.51,46.92 L558.67,46.52 L558.83,46.14 L558.99,45.78 L559.15,45.44 L559.31,45.12 L559.48,44.82 L559.64,44.53 L559.80,44.27 L559.95,44.03 L560.11,43.80 L560.27,43.60 L560.43,43.41 L560.59,43.25 L560.75,43.10 L560.90,42.97 L561.06,42.86 L561.22,42.78 L561.37,42.71 L561.53,42.66 L561.68,42.63 L561.84,42.62 L561.99,42.63 L562.15,42.66 L562.30,42.71 L562.46,42.78 L562.61,42.86 L562.76,42.97 L562.91,43.10 L563.07,43.25 L563.22,43.41 L563.37,43.60 L563.52,43.80 L563.67,44.03 L563.82,44.27 L563.97,44.53 L564.12,44.82 L564.27,45.12 L564.42,45.44 L564.57,45.78 L564.71,46.14 L564.86,46.52 L565.01,46.92 L565.16,47.34 L565.30,47.77 L565.45,48.23 L565.60,48.70 L565.74,49.20 L565.89,49.71 L566.03,50.24 L566.18,50.79 L566.32,51.36 L566.47,51.95 L566.61,52.56 L566.76,53.18 L566.90,53.82 L567.05,54.49 L567.19,55.17 L567.34,55.87 L567.48,56.58 L567.62,57.32 L567.77,58.07 L567.91,58.85 L568.05,59.64 L568.20,60.45 L568.34,61.27 L568.48,62.12 L568.62,62.98 L568.77,63.86 L568.91,64.75 L569.05,65.67 L569.20,66.60 L569.34,67.55 L569.48,68.52 L569.62,69.50 L569.77,70.50 L569.91,71.52 L570.05,72.56 L570.19,73.61 L570.34,74.68 L570.48,75.76 L570.62,76.86 L570.77,77.98 L570.91,79.12 L571.05,80.27 L571.20,81.44 L571.34,82.62 L571.48,83.82 L571.63,85.03 L571.77,86.26 L571.91,87.51 L572.06,88.77 L572.20,90.05 L572.35,91.34 L572.49,92.65 L572.63,93.97 L572.78,95.31 L572.92,96.66 L573.07,98.03 L573.21,99.41 L573.36,100.80 L573.50,102.21 L573.65,103.64 L573.79,105.08 L573.94,106.53 L574.09,108.00 L574.23,109.48 L574.38,110.97 L574.53,112.48 L574.67,114.00 L574.82,115.53 L574.97,117.08 L575.11,118.64 L575.26,120.21 L575.41,121.80 L575.56,123.40 L575.70,125.01 L575.85,126.63 L576.00,128.26 L576.15,129.91 L576.30,131.57 L576.44,133.24 L576.59,134.92 L576.74,136.62 L576.89,138.32 L577.04,140.04 L577.19,141.76 L577.34,143.50 L577.49,145.25 L577.64,147.01 L577.79,148.78 L577.94,150.56 L578.09,152.35 L578.24,154.15 L578.39,155.96 L578.54,157.78 L578.69,159.61 L578.84,161.45 L579.00,163.29 L579.15,165.15 L579.30,167.02 L579.45,168.89 L579.60,170.78 L579.75,172.67 L579.91,174.57 L580.06,176.48 L580.21,178.40 L580.36,180.32 L580.51,182.25 L580.67,184.19 L580.82,186.14 L580.97,188.10 L581.12,190.06 L581.28,192.03 L581.43,194.01 L581.58,195.99 L581.74,197.98 L581.89,199.98 L582.04,201.98 L582.20,203.99 L582.35,206.00 L582.50,208.02 L582.66,210.05 L582.81,212.08 L582.96,214.12 L583.12,216.16 L583.27,218.21 L583.42,220.26 L583.58,222.32 L583.73,224.38 L583.88,226.45 L584.04,228.52 L584.19,230.60 L584.35,232.68 L584.50,234.76 L584.65,236.85 L584.81,238.94 L584.96,241.03 L585.12,243.13 L585.27,245.23 L585.43,247.34 L585.58,249.44 L585.73,251.55 L585.89,253.67 L586.04,255.78 L586.20,257.90 L586.35,260.02 L586.51,262.14 L586.66,264.26 L586.81,266.39 L586.97,268.51 L587.12,270.64 L587.28,272.77 L587.43,274.90 L587.59,277.03 L587.74,279.17 L587.90,281.30 L588.05,283.44 L588.21,285.57 L588.36,287.71 L588.51,289.84 L588.67,291.98 L588.82,294.11 L588.98,296.25 L589.13,298.38 L589.29,300.52 L589.44,302.65 L589.60,304.79 L589.75,306.92 L589.91,309.05 L590.06,311.18 L590.22,313.31 L590.37,315.44 L590.53,317.57 L590.68,319.69 L590.84,321.82 L590.99,323.94 L591.14,326.06 L591.30,328.18 L591.45,330.30 L591.61,332.41 L591.76,334.52 L591.92,336.63 L592.07,338.74 L592.23,340.84 L592.38,342.94 L592.54,345.04 L592.69,347.14 L592.85,349.23 L593.00,351.32 L593.16,353.40 L593.31,355.49 L593.47,357.56 L593.62,359.64 L593.78,361.71 L593.93,363.78 L594.09,365.84 L594.24,367.90 L594.40,369.95 L594.55,372.01 L594.70,374.05 L594.86,376.09 L595.01,378.13 L595.17,380.16 L595.32,382.19 L595.48,384.21 L595.63,386.23 L595.79,388.24 L595.94,390.25 L596.10,392.25 L596.25,394.25 L596.41,396.24 L596.56,398.23 L596.72,400.21 L596.87,402.19 L597.03,404.16 L597.18,406.12 L597.34,408.08 L597.49,410.03 L597.65,411.98 L597.80,413.92 L597.96,415.85 L598.11,417.78 L598.27,419.70 L598.42,421.61 L598.57,423.52 L598.73,425.43 L598.88,427.33 L599.04,429.22 L599.19,431.11 L599.35,432.99 L599.50,434.87 L599.66,436.74 L599.81,438.61 L599.97,440.47 L600.12,442.32 L600.28,444.18 L600.43,446.03 L600.59,447.87 L600.74,449.71 L600.90,451.55 L601.05,453.38 L601.21,455.21 L601.36,457.03 L601.52,458.86 L601.67,460.67 L601.83,462.49 L601.98,464.30 L602.14,466.11 L602.29,467.92 L602.45,469.73 L602.60,471.53 L602.75,473.33 L602.91,475.13 L603.06,476.92 L603.22,478.72 L603.37,480.51 L603.53,482.30 L603.68,484.09 L603.84,485.88 L603.99,487.67 L604.15,489.46 L604.30,491.24 L604.46,493.03 L604.61,494.81 L604.77,496.59 L604.92,498.37 L605.08,500.15 L605.23,501.93 L605.39,503.71 L605.54,505.49 L605.70,507.27 L605.85,509.04 L606.01,510.82 L606.16,512.59 L606.32,514.37 L606.47,516.14 L606.63,517.92 L606.78,519.69 L606.93,521.46 L607.09,523.23 L607.24,525.00 L607.40,526.77 L607.55,528.54 L607.71,530.31 L607.86,532.07 L608.02,533.84 L608.17,535.60 L608.33,537.37 L608.48,539.13 L608.64,540.89 L608.79,542.64 L608.95,544.40 L609.10,546.15 L609.26,547.90 L609.41,549.65 L609.57,551.40 L609.72,553.14 L609.88,554.88 L610.03,556.62 L610.19,558.36 L610.34,560.09 L610.50,561.81 L610.65,563.54 L610.81,565.25 L610.96,566.97 L611.11,568.68 L611.27,570.38 L611.42,572.08 L611.58,573.78 L611.73,575.47 L611.89,577.15 L612.04,578.82 L612.20,580.49 L612.35,582.16 L612.51,583.81 L612.66,585.46 L612.82,587.10 L612.97,588.74 L613.13,590.36 L613.28,591.98 L613.44,593.58 L613.59,595.18 L613.75,596.77 L613.90,598.35 L614.06,599.92 L614.21,601.48 L614.37,603.02 L614.52,604.56 L614.68,606.08 L614.83,607.60 L614.99,609.10 L615.14,610.59 L615.29,612.06 L615.45,613.53 L615.60,614.98 L615.76,616.41 L615.91,617.83 L616.07,619.24 L616.22,620.64 L616.38,622.01 L616.53,623.38 L616.69,624.73 L616.84,626.06 L617.00,627.38 L617.15,628.68 L617.31,629.96 L617.46,631.23 L617.62,632.48 L617.77,633.71 L617.93,634.93 L618.08,636.13 L618.24,637.31 L618.39,638.47 L618.55,639.62 L618.70,640.74 L618.86,641.85 L619.01,642.94 L619.17,644.01 L619.32,645.06 L619.47,646.10 L619.63,647.11 L619.78,648.10 L619.94,649.08 L620.09,650.03 L620.25,650.97 L620.40,651.88 L620.56,652.78 L620.71,653.66 L620.87,654.51 L621.02,655.35 L621.18,656.17 L621.33,656.97 L621.49,657.75 L621.64,658.50 L621.80,659.24 L621.95,659.96 L622.11,660.66 L622.26,661.35 L622.42,662.01 L622.57,662.65 L622.73,663.28 L622.88,663.88 L623.04,664.47 L623.19,665.04 L623.35,665.59 L623.50,666.12 L623.65,666.64 L623.81,667.14 L623.96,667.62 L624.12,668.08 L624.27,668.53 L624.43,668.96 L624.58,669.37 L624.74,669.77 L624.89,670.15 L625.05,670.52 L625.20,670.87 L625.36,671.21 L625.51,671.53 L625.67,671.84 L625.82,672.13 L625.98,672.41 L626.13,672.68 L626.29,672.94 L626.44,673.18 L626.60,673.41 L626.75,673.63 L626.91,673.84 L627.06,674.03 L627.22,674.22 L627.37,674.40 L627.53,674.56 L627.68,674.72 L627.83,674.86 L627.99,675.00 L628.14,675.13 L628.30,675.25 L628.45,675.37 L628.61,675.47 L628.76,675.57 L628.92,675.66 L629.07,675.75 L629.23,675.83 L629.38,675.90 L629.54,675.96 L661.44,675.96"/>
<path stroke="#800000" d="M390.88,675.96 L411.95,675.96 L412.12,675.93 L412.29,675.84 L412.46,675.74 L412.63,675.63 L412.79,675.53 L412.96,675.41 L413.13,675.29 L413.30,675.16 L413.47,675.03 L413.64,674.89 L413.81,674.75 L413.98,674.60 L414.15,674.45 L414.32,674.28 L414.49,674.12 L414.66,673.94 L414.83,673.76 L415.00,673.57 L415.17,673.38 L415.33,673.18 L415.50,672.97 L415.67,672.76 L415.84,672.54 L416.01,672.32 L416.18,672.08 L416.35,671.84 L416.52,671.59 L416.69,671.34 L416.86,671.08 L417.03,670.81 L417.20,670.53 L417.37,670.25 L417.54,669.96 L417.70,669.66 L417.87,669.35 L418.04,669.04 L418.21,668.72 L418.38,668.39 L418.55,668.05 L418.72,667.71 L418.89,667.35 L419.06,666.99 L419.23,666.62 L419.40,666.24 L419.57,665.86 L419.74,665.46 L419.91,665.06 L420.08,664.65 L420.24,664.23 L420.41,663.80 L420.58,663.36 L420.75,662.91 L420.92,662.46 L421.09,661.99 L421.26,661.52 L421.43,661.04 L421.60,660.55 L421.77,660.04 L421.94,659.53 L422.11,659.01 L422.28,658.49 L422.45,657.95 L422.61,657.40 L422.78,656.84 L422.95,656.27 L423.12,655.70 L423.29,655.11 L423.46,654.51 L423.63,653.91 L423.80,653.29 L423.97,652.67 L424.14,652.03 L424.31,651.38 L424.48,650.73 L424.65,650.06 L424.82,649.39 L424.98,648.70 L425.15,648.00 L425.32,647.30 L425.49,646.58 L425.66,645.85 L425.83,645.12 L426.00,644.37 L426.17,643.61 L426.34,642.84 L426.51,642.06 L426.68,641.27 L426.85,640.48 L427.02,639.67 L427.19,638.85 L427.36,638.01 L427.52,637.17 L427.69,636.32 L427.86,635.46 L428.03,634.59 L428.20,633.71 L428.37,632.81 L428.54,631.91 L428.71,630.99 L428.88,630.07 L429.05,629.14 L429.22,628.19 L429.39,627.24 L429.56,626.27 L429.73,625.30 L429.89,624.31 L430.06,623.31 L430.23,622.31 L430.40,621.29 L430.57,620.26 L430.74,619.23 L430.91,618.18 L431.08,617.13 L431.25,616.06 L431.42,614.98 L431.59,613.90 L431.76,612.80 L431.92,611.70 L432.08,610.59 L432.25,609.46 L432.41,608.33 L432.57,607.19 L432.74,606.03 L432.90,604.87 L433.06,603.70 L433.22,602.52 L433.39,601.34 L433.55,600.14 L433.71,598.93 L433.88,597.72 L434.04,596.50 L434.20,595.27 L434.36,594.03 L434.53,592.78 L434.69,591.53 L434.85,590.26 L435.01,588.99 L435.18,587.71 L435.34,586.43 L435.50,585.13 L435.66,583.83 L435.83,582.52 L435.99,581.21 L436.15,579.89 L436.31,578.56 L436.47,577.22 L436.64,575.88 L436.80,574.53 L436.96,573.18 L437.12,571.82 L437.29,570.45 L437.45,569.08 L437.61,567.70 L437.77,566.32 L437.93,564.93 L438.10,563.53 L438.26,562.14 L438.42,560.73 L438.58,559.33 L438.75,557.91 L438.91,556.50 L439.07,555.08 L439.23,553.65 L439.40,552.22 L439.56,550.79 L439.72,549.35 L439.88,547.91 L440.04,546.47 L440.21,545.03 L440.37,543.58 L440.53,542.13 L440.69,540.68 L440.86,539.22 L441.02,537.76 L441.18,536.30 L441.34,534.84 L441.51,533.38 L441.67,531.91 L441.83,530.44 L442.00,528.98 L442.16,527.51 L442.32,526.03 L442.48,524.56 L442.65,523.09 L442.81,521.61 L442.97,520.13 L443.14,518.66 L443.30,517.17 L443.46,515.69 L443.63,514.20 L443.79,512.70 L443.95,511.19 L444.12,509.67 L444.28,508.15 L444.44,506.61 L444.61,505.07 L444.77,503.52 L444.93,501.96 L445.10,500.39 L445.26,498.81 L445.43,497.22 L445.59,495.63 L445.75,494.02 L445.92,492.41 L446.08,490.79 L446.24,489.16 L446.41,487.52 L446.57,485.88 L446.74,484.22 L446.90,482.56 L447.07,480.89 L447.23,479.21 L447.39,477.52 L447.56,475.83 L447.72,474.13 L447.89,472.41 L448.05,470.69 L448.22,468.97 L448.38,467.23 L448.55,465.49 L448.71,463.73 L448.88,461.97 L449.04,460.21 L449.21,458.43 L449.38,456.65 L449.54,454.86 L449.71,453.06 L449.87,451.25 L450.04,449.44 L450.20,447.62 L450.37,445.79 L450.54,443.95 L450.70,442.11 L450.87,440.26 L451.04,438.40 L451.20,436.54 L451.37,434.67 L451.54,432.79 L451.71,430.90 L451.87,429.01 L452.04,427.11 L452.21,425.20 L452.38,423.29 L452.54,421.37 L452.71,419.44 L452.88,417.51 L453.05,415.57 L453.22,413.62 L453.39,411.67 L453.56,409.71 L453.72,407.75 L453.89,405.78 L454.06,403.80 L454.23,401.82 L454.40,399.83 L454.57,397.84 L454.74,395.84 L454.91,393.83 L455.08,391.82 L455.25,389.81 L455.42,387.79 L455.59,385.76 L455.77,383.73 L455.94,381.69 L456.11,379.65 L456.28,377.60 L456.45,375.55 L456.62,373.50 L456.80,371.43 L456.97,369.37 L457.14,367.30 L457.31,365.23 L457.49,363.15 L457.66,361.07 L457.83,358.98 L458.01,356.89 L458.18,354.80 L458.35,352.70 L458.53,350.60 L458.70,348.49 L458.87,346.39 L459.05,344.28 L459.22,342.16 L459.40,340.04 L459.57,337.92 L459.75,335.80 L459.92,333.68 L460.10,331.55 L460.27,329.42 L460.45,327.29 L460.63,325.15 L460.80,323.01 L460.98,320.87 L461.15,318.73 L461.33,316.59 L461.51,314.45 L461.68,312.30 L461.86,310.15 L462.04,308.01 L462.22,305.86 L462.39,303.71 L462.57,301.56 L462.75,299.40 L462.93,297.25 L463.10,295.10 L463.28,292.95 L463.46,290.79 L463.64,288.64 L463.82,286.49 L464.00,284.33 L464.18,282.18 L464.35,280.03 L464.53,277.88 L464.71,275.72 L464.89,273.57 L465.07,271.43 L465.25,269.28 L465.43,267.13 L465.61,264.99 L465.79,262.84 L465.97,260.70 L466.15,258.56 L466.33,256.42 L466.51,254.29 L466.69,252.15 L466.87,250.02 L467.05,247.90 L467.23,245.77 L467.41,243.65 L467.59,241.53 L467.77,239.41 L467.95,237.30 L468.13,235.19 L468.31,233.08 L468.49,230.98 L468.67,228.88 L468.85,226.79 L469.03,224.70 L469.21,222.61 L469.39,220.53 L469.57,218.45 L469.75,216.38 L469.93,214.32 L470.11,212.25 L470.29,210.20 L470.47,208.15 L470.66,206.10 L470.84,204.06 L471.02,202.03 L471.20,200.00 L471.37,197.98 L471.54,195.96 L471.71,193.96 L471.88,191.95 L472.05,189.96 L472.22,187.97 L472.39,185.99 L472.56,184.01 L472.73,182.05 L472.90,180.09 L473.07,178.14 L473.24,176.19 L473.41,174.26 L473.58,172.33 L473.74,170.41 L473.91,168.50 L474.08,166.60 L474.25,164.71 L474.42,162.82 L474.59,160.95 L474.76,159.08 L474.93,157.22 L475.10,155.38 L475.27,153.54 L475.44,151.71 L475.61,149.89 L475.78,148.08 L475.95,146.29 L476.12,144.50 L476.28,142.72 L476.45,140.96 L476.62,139.20 L476.79,137.46 L476.96,135.72 L477.13,134.00 L477.30,132.29 L477.47,130.59 L477.64,128.91 L477.81,127.23 L477.98,125.57 L478.15,123.92 L478.32,122.28 L478.49,120.65 L478.65,119.04 L478.82,117.43 L478.99,115.85 L479.16,114.27 L479.33,112.71 L479.50,111.16 L479.67,109.62 L479.84,108.10 L480.01,106.59 L480.18,105.09 L480.35,103.61 L480.52,102.14 L480.69,100.69 L480.86,99.25 L481.02,97.83 L481.19,96.42 L481.36,95.02 L481.53,93.64 L481.70,92.27 L481.87,90.92 L482.04,89.58 L482.21,88.26 L482.38,86.96 L482.55,85.67 L482.72,84.39 L482.89,83.13 L483.06,81.89 L483.23,80.66 L483.40,79.45 L483.56,78.25 L483.73,77.07 L483.90,75.91 L484.07,74.77 L484.24,73.64 L484.41,72.52 L484.58,71.42 L484.75,70.34 L484.92,69.28 L485.09,68.24 L485.26,67.21 L485.43,66.20 L485.60,65.20 L485.77,64.22 L485.93,63.26 L486.10,62.32 L486.27,61.40 L486.44,60.49 L486.61,59.60 L486.78,58.73 L486.95,57.88 L487.12,57.04 L487.29,56.22 L487.46,55.43 L487.63,54.65 L487.80,53.88 L487.97,53.14 L488.14,52.41 L488.31,51.71 L488.47,51.02 L488.64,50.35 L488.81,49.70 L488.98,49.07 L489.15,48.45 L489.32,47.86 L489.49,47.28 L489.66,46.73 L489.83,46.19 L490.00,45.67 L490.17,45.17 L490.34,44.69 L490.51,44.23 L490.68,43.79 L490.84,43.37 L491.01,42.97 L491.18,42.58 L491.35,42.22 L491.52,41.87 L491.69,41.55 L491.86,41.24 L492.03,40.96 L492.20,40.69 L492.37,40.45 L492.54,40.22 L492.71,40.01 L492.88,39.82 L493.05,39.66 L493.21,39.51 L493.38,39.38 L493.55,39.27 L493.72,39.18 L493.89,39.11 L494.06,39.06 L494.23,39.03 L494.40,39.02 L494.59,39.04 L494.78,39.07 L494.97,39.14 L495.17,39.22 L495.36,39.34 L495.55,39.48 L495.74,39.64 L495.93,39.83 L496.12,40.04 L496.31,40.28 L496.50,40.54 L496.70,40.83 L496.89,41.14 L497.08,41.48 L497.27,41.84 L497.46,42.23 L497.65,42.64 L497.84,43.07 L498.03,43.53 L498.23,44.02 L498.42,44.53 L498.61,45.06 L498.80,45.62 L498.99,46.21 L499.18,46.81 L499.37,47.45 L499.56,48.10 L499.76,48.78 L499.95,49.48 L500.14,50.21 L500.33,50.96 L500.52,51.74 L500.71,52.54 L500.90,53.36 L501.10,54.20 L501.29,55.07 L501.48,55.96 L501.67,56.88 L501.86,57.82 L502.05,58.78 L502.24,59.76 L502.43,60.77 L502.63,61.79 L502.82,62.85 L503.01,63.92 L503.20,65.01 L503.39,66.13 L503.58,67.27 L503.77,68.43 L503.96,69.62 L504.16,70.82 L504.35,72.05 L504.54,73.29 L504.73,74.56 L504.92,75.85 L505.11,77.16 L505.30,78.49 L505.50,79.84 L505.69,81.22 L505.88,82.61 L506.07,84.02 L506.26,85.45 L506.45,86.90 L506.64,88.38 L506.83,89.87 L507.03,91.38 L507.22,92.90 L507.41,94.45 L507.60,96.02 L507.79,97.60 L507.98,99.21 L508.17,100.83 L508.36,102.47 L508.56,104.13 L508.75,105.80 L508.94,107.49 L509.13,109.20 L509.32,110.93 L509.51,112.68 L509.70,114.44 L509.89,116.21 L510.09,118.01 L510.28,119.82 L510.47,121.64 L510.66,123.49 L510.85,125.34 L511.04,127.22 L511.23,129.10 L511.43,131.01 L511.62,132.92 L511.81,134.86 L512.00,136.80 L512.19,138.76 L512.38,140.74 L512.57,142.73 L512.76,144.73 L512.96,146.74 L513.15,148.77 L513.34,150.81 L513.53,152.87 L513.72,154.93 L513.91,157.01 L514.10,159.10 L514.29,161.21 L514.49,163.32 L514.68,165.45 L514.87,167.58 L515.06,169.73 L515.25,171.89 L515.44,174.06 L515.63,176.24 L515.83,178.43 L516.02,180.63 L516.21,182.84 L516.40,185.06 L516.59,187.28 L516.78,189.52 L516.97,191.77 L517.16,194.02 L517.36,196.29 L517.55,198.56 L517.75,200.84 L517.94,203.12 L518.14,205.42 L518.34,207.72 L518.54,210.03 L518.74,212.35 L518.94,214.67 L519.13,217.00 L519.33,219.33 L519.53,221.67 L519.73,224.02 L519.93,226.37 L520.12,228.73 L520.32,231.10 L520.52,233.46 L520.72,235.84 L520.92,238.22 L521.12,240.60 L521.31,242.98 L521.51,245.37 L521.71,247.77 L521.91,250.16 L522.11,252.56 L522.30,254.97 L522.50,257.37 L522.70,259.78 L522.90,262.20 L523.10,264.61 L523.29,267.02 L523.49,269.44 L523.69,271.86 L523.89,274.28 L524.08,276.70 L524.28,279.13 L524.48,281.55 L524.68,283.98 L524.87,286.40 L525.07,288.83 L525.27,291.25 L525.46,293.68 L525.66,296.10 L525.86,298.53 L526.05,300.95 L526.25,303.37 L526.45,305.80 L526.64,308.22 L526.84,310.64 L527.03,313.05 L527.23,315.47 L527.43,317.88 L527.62,320.30 L527.82,322.71 L528.01,325.11 L528.21,327.52 L528.40,329.92 L528.60,332.32 L528.79,334.71 L528.99,337.11 L529.18,339.49 L529.38,341.88 L529.57,344.26 L529.77,346.64 L529.96,349.01 L530.16,351.38 L530.35,353.74 L530.54,356.10 L530.74,358.46 L530.93,360.81 L531.13,363.16 L531.32,365.50 L531.51,367.83 L531.71,370.16 L531.90,372.48 L532.09,374.80 L532.28,377.11 L532.48,379.42 L532.67,381.72 L532.86,384.01 L533.05,386.30 L533.25,388.58 L533.44,390.86 L533.63,393.12 L533.82,395.38 L534.01,397.64 L534.21,399.88 L534.40,402.12 L534.59,404.35 L534.78,406.58 L534.97,408.79 L535.16,411.00 L535.35,413.20 L535.54,415.39 L535.74,417.58 L535.93,419.76 L536.12,421.92 L536.31,424.08 L536.50,426.23 L536.69,428.38 L536.88,430.51 L537.07,432.64 L537.26,434.75 L537.45,436.86 L537.64,438.96 L537.83,441.05 L538.02,443.13 L538.21,445.20 L538.40,447.26 L538.59,449.31 L538.77,451.36 L538.96,453.39 L539.15,455.41 L539.34,457.43 L539.53,459.43 L539.72,461.43 L539.91,463.41 L540.10,465.38 L540.29,467.35 L540.47,469.30 L540.66,471.25 L540.85,473.18 L541.04,475.10 L541.23,477.02 L541.42,478.92 L541.60,480.81 L541.79,482.69 L541.98,484.56 L542.17,486.42 L542.36,488.27 L542.54,490.11 L542.73,491.94 L542.92,493.76 L543.11,495.57 L543.30,497.36 L543.48,499.15 L543.67,500.92 L543.86,502.69 L544.05,504.44 L544.24,506.18 L544.42,507.91 L544.61,509.63 L544.80,511.34 L544.99,513.04 L545.17,514.73 L545.36,516.40 L545.55,518.07 L545.74,519.72 L545.92,521.36 L546.11,522.99 L546.30,524.61 L546.49,526.22 L546.67,527.82 L546.86,529.40 L547.05,530.98 L547.24,532.54 L547.42,534.10 L547.61,535.64 L547.80,537.17 L547.98,538.69 L548.17,540.20 L548.36,541.69 L548.55,543.18 L548.73,544.65 L548.92,546.12 L549.11,547.57 L549.30,549.01 L549.48,550.44 L549.67,551.86 L549.86,553.27 L550.05,554.66 L550.23,556.05 L550.42,557.42 L550.61,558.79 L550.80,560.14 L550.98,561.48 L551.17,562.81 L551.36,564.13 L551.55,565.44 L551.73,566.74 L551.92,568.02 L552.11,569.30 L552.30,570.56 L552.49,571.82 L552.67,573.06 L552.86,574.29 L553.05,575.52 L553.24,576.74 L553.42,578.07 L553.61,579.45 L553.80,580.85 L553.99,582.26 L554.17,583.68 L554.36,585.10 L554.55,586.52 L554.73,587.94 L554.92,589.35 L555.11,590.76 L555.29,592.16 L555.48,593.55 L555.67,594.94 L555.86,596.32 L556.04,597.68 L556.23,599.04 L556.42,600.38 L556.60,601.72 L556.79,603.04 L556.98,604.35 L557.17,605.65 L557.35,606.93 L557.54,608.20 L557.73,609.46 L557.92,610.70 L558.10,611.93 L558.29,613.15 L558.48,614.35 L558.68,615.54 L558.87,616.71 L559.06,617.87 L559.25,619.02 L559.44,620.15 L559.63,621.27 L559.82,622.37 L560.01,623.45 L560.21,624.53 L560.40,625.59 L560.59,626.63 L560.78,627.66 L560.97,628.67 L561.16,629.67 L561.35,630.66 L561.54,631.63 L561.74,632.59 L561.93,633.53 L562.12,634.46 L562.31,635.37 L562.50,636.27 L562.69,637.16 L562.88,638.03 L563.08,638.89 L563.27,639.73 L563.46,640.56 L563.65,641.38 L563.84,642.18 L564.03,642.97 L564.22,643.75 L564.41,644.51 L564.61,645.26 L564.80,646.00 L564.99,646.72 L565.18,647.44 L565.37,648.14 L565.56,648.82 L565.75,649.50 L565.94,650.16 L566.14,650.81 L566.33,651.45 L566.52,652.08 L566.71,652.69 L566.90,653.29 L567.09,653.89 L567.28,654.47 L567.48,655.04 L567.67,655.60 L567.86,656.14 L568.05,656.68 L568.24,657.21 L568.43,657.72 L568.62,658.23 L568.81,658.72 L569.01,659.21 L569.20,659.68 L569.39,660.15 L569.58,660.60 L569.77,661.05 L569.96,661.48 L570.15,661.91 L570.34,662.33 L570.54,662.74 L570.73,663.14 L570.92,663.53 L571.11,663.91 L571.30,664.29 L571.49,664.65 L571.68,665.01 L571.87,665.36 L572.07,665.70 L572.26,666.03 L572.45,666.36 L572.64,666.68 L572.83,666.99 L573.02,667.29 L573.21,667.59 L573.41,667.87 L573.60,668.16 L573.79,668.43 L573.98,668.70 L574.17,668.96 L574.36,669.22 L574.55,669.46 L574.74,669.71 L574.94,669.94 L575.13,670.17 L575.32,670.40 L575.51,670.61 L575.70,670.83 L575.89,671.03 L576.08,671.24 L576.27,671.43 L576.47,671.62 L576.66,671.81 L576.85,671.99 L577.04,672.16 L577.23,672.33 L577.42,672.50 L577.61,672.66 L577.81,672.81 L578.00,672.97 L578.19,673.11 L578.38,673.26 L578.57,673.39 L578.76,673.53 L578.95,673.66 L579.14,673.78 L579.34,673.91 L579.53,674.02 L579.72,674.14 L579.91,674.25 L580.10,674.36 L580.29,674.46 L580.48,674.56 L580.67,674.66 L580.87,674.75 L581.06,674.84 L581.25,674.93 L581.44,675.02 L581.63,675.10 L581.82,675.18 L582.01,675.25 L582.20,675.33 L582.40,675.40 L582.59,675.46 L582.78,675.53 L582.97,675.59 L583.16,675.65 L583.35,675.71 L583.54,675.77 L583.74,675.82 L583.93,675.87 L584.12,675.92 L584.31,675.96 L595.84,675.96"/>
</g>
<g class="tick" text-anchor="middle">
<text transform="translate(172.10,708.80) scale(0.985,1.045)">790</text>
<text transform="translate(274.39,708.80) scale(0.985,1.045)">800</text>
<text transform="translate(376.68,708.80) scale(0.985,1.045)">810</text>
<text transform="translate(478.97,708.80) scale(0.985,1.045)">820</text>
<text transform="translate(581.26,708.80) scale(0.985,1.045)">830</text>
<text transform="translate(683.55,708.80) scale(0.985,1.045)">840</text>
<text transform="translate(785.84,708.80) scale(0.985,1.045)">850</text>
<text transform="translate(888.13,708.80) scale(0.985,1.045)">860</text>
</g>
<g class="tick" text-anchor="end">
<text transform="translate(91.60,686.30) scale(1.0,1.045)">0.0</text>
<text transform="translate(91.60,557.78) scale(1.0,1.045)">0.2</text>
<text transform="translate(91.60,429.26) scale(1.0,1.045)">0.4</text>
<text transform="translate(91.60,300.74) scale(1.0,1.045)">0.6</text>
<text transform="translate(91.60,172.22) scale(1.0,1.045)">0.8</text>
<text transform="translate(91.60,43.70) scale(1.0,1.045)">1.0</text>
</g>
<text class="title" text-anchor="middle" x="519.5" y="763.5">Wavelength (nm)</text>
<text class="title" style="font-size:37.6px" text-anchor="middle" transform="translate(26,338.7) rotate(-90)">PL Intensity (a.u)</text>
<text transform="scale(1,1.03)" fill="#ff0000" font-size="38.75px"><tspan x="118.4" y="82.52">MAPbI</tspan><tspan x="242.3" y="92.52" font-size="27px">3</tspan></text>
<text fill="#000000" font-size="34.67px"><tspan x="344.2" y="85.4" letter-spacing="-1.1">FA</tspan><tspan x="390.2" y="95.8" font-size="23.3px" letter-spacing="0.75">1-</tspan><tspan x="409.6" y="95.8" font-size="23.3px" class="it" textLength="13.4" lengthAdjust="spacingAndGlyphs">x</tspan><tspan x="423.0" y="85.4" letter-spacing="0.7">MA</tspan><tspan x="480.7" y="95.8" font-size="23.3px" class="it" textLength="13.4" lengthAdjust="spacingAndGlyphs">x</tspan><tspan x="494.9" y="85.4">PbI</tspan><tspan x="548.1" y="95.8" font-size="23.3px">3</tspan></text>
<g stroke-width="4.6" fill="none">
<line x1="363.8" y1="140.1" x2="428.3" y2="140.1" stroke="#0000ff"/>
<line x1="363.8" y1="179.4" x2="428.3" y2="179.4" stroke="#008000"/>
<line x1="363.8" y1="219.1" x2="428.3" y2="219.1" stroke="#800000"/>
</g>
<text class="leg" transform="scale(1,1.06)" fill="#0000ff"><tspan x="434.7" y="142.17" font-size="32.3px" class="it" textLength="18.1" lengthAdjust="spacingAndGlyphs">x</tspan> <tspan x="457.9" y="140.19" font-size="26.3px" textLength="21.07" lengthAdjust="spacingAndGlyphs">=</tspan> <tspan x="485.3" y="141.42">0.3</tspan></text>
<text class="leg" transform="scale(1,1.06)" fill="#008000"><tspan x="434.7" y="179.25" font-size="32.3px" class="it" textLength="18.1" lengthAdjust="spacingAndGlyphs">x</tspan> <tspan x="457.9" y="177.26" font-size="26.3px" textLength="21.07" lengthAdjust="spacingAndGlyphs">=</tspan> <tspan x="485.3" y="178.49">0.5</tspan></text>
<text class="leg" transform="scale(1,1.06)" fill="#800000"><tspan x="434.7" y="216.70" font-size="32.3px" class="it" textLength="18.1" lengthAdjust="spacingAndGlyphs">x</tspan> <tspan x="457.9" y="214.72" font-size="26.3px" textLength="21.07" lengthAdjust="spacingAndGlyphs">=</tspan> <tspan x="485.3" y="215.94">0.7</tspan></text>
</svg>
</body>
</html>
